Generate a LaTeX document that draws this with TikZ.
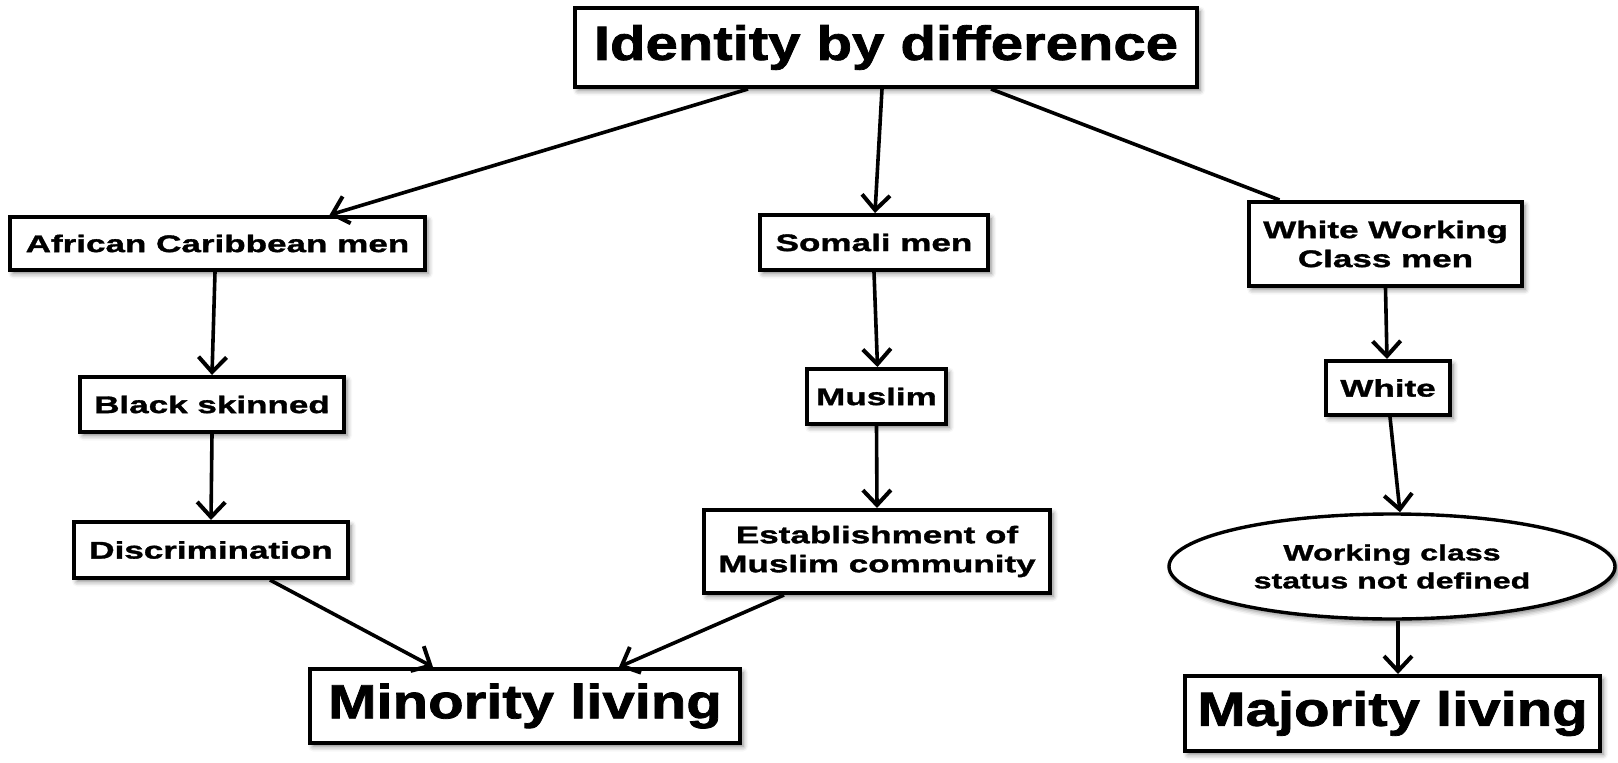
\documentclass[tikz,border=0pt]{standalone}
\usepackage{fontspec}
\usetikzlibrary{arrows.meta,shapes.geometric,shadows.blur}
% Wide heavy sans faces for labels
\newfontfamily\headfont{Liberation Sans Bold}[FakeStretch=1.21,FakeBold=1.6]
\newfontfamily\labelfont{Liberation Sans Bold}[FakeStretch=1.46,FakeBold=1.4]

\tikzset{
  boxshadow/.style={blur shadow={shadow xshift=3pt,shadow yshift=-3.5pt,shadow blur radius=5pt,shadow opacity=50}},
  box/.style={draw=black,line width=4pt,fill=white,rectangle,inner sep=0pt,align=center,boxshadow},
  headbox/.style={box,font=\headfont\fontsize{48}{56}\selectfont},
  labelbox/.style={box,font=\labelfont\fontsize{24}{29}\selectfont},
  oval/.style={draw=black,line width=3.4pt,fill=white,ellipse,inner sep=0pt,align=center,boxshadow,
    font=\labelfont\fontsize{22}{28}\selectfont},
  link/.style={draw=black,line width=3.6pt},
  arrow/.style={link,-{Straight Barb[length=15pt,width=28pt,line width=4pt]}},
}

\begin{document}
\begin{tikzpicture}[x=1pt,y=-1pt]
\useasboundingbox (0,0) rectangle (1618,763);

% top level
\node[headbox,minimum width=622pt,minimum height=79pt] (top) at (886,47.5) {Identity by difference};

% left branch
\node[labelbox,minimum width=415pt,minimum height=53pt] (afr) at (217.5,243.5) {African Caribbean men};
\node[labelbox,minimum width=264pt,minimum height=55pt] (blk) at (212,404.5) {Black skinned};
\node[labelbox,minimum width=274pt,minimum height=56pt] (dis) at (211,550) {Discrimination};

% middle branch
\node[labelbox,minimum width=228pt,minimum height=55pt] (som) at (874,242.5) {Somali men};
\node[labelbox,minimum width=139pt,minimum height=55pt] (mus) at (876.5,396.5) {Muslim};
\node[labelbox,minimum width=346pt,minimum height=83pt] (est) at (877,551.5) {Establishment of\\Muslim community};

% right branch
\node[labelbox,minimum width=273pt,minimum height=84pt] (wwc) at (1385.5,244) {White Working\\Class men};
\node[labelbox,minimum width=124pt,minimum height=54pt] (wht) at (1388,388) {White};
\node[oval,minimum width=446pt,minimum height=105pt] (ell) at (1392,566.5) {Working class\\status not defined};

% outcomes
\node[headbox,minimum width=430pt,minimum height=74pt] (min) at (525,706) {Minority living};
\node[headbox,minimum width=415pt,minimum height=75pt] (maj) at (1392.5,713.5) {Majority living};

% connectors
\draw[arrow] ([xshift=-138pt]top.south) -- ([xshift=112pt]afr.north);
\draw[arrow] ([xshift=-4pt]top.south) -- ([xshift=1pt]som.north);
\draw[link]  ([xshift=105pt]top.south) -- ([xshift=-106pt]wwc.north);

\draw[arrow] ([xshift=-2.5pt]afr.south) -- (blk.north);
\draw[arrow] (blk.south) -- (dis.north);
\draw[arrow] ([xshift=59pt]dis.south) -- ([xshift=-92pt]min.north);

\draw[arrow] (som.south) -- ([xshift=1pt]mus.north);
\draw[arrow] (mus.south) -- (est.north);
\draw[arrow] ([xshift=-93pt]est.south) -- ([xshift=94pt]min.north);

\draw[arrow] (wwc.south) -- ([xshift=-1pt]wht.north);
\draw[arrow] ([xshift=2pt]wht.south) -- ([xshift=8pt]ell.north);
\draw[arrow] ([xshift=6pt]ell.south) -- ([xshift=5.5pt]maj.north);
\end{tikzpicture}
\end{document}
